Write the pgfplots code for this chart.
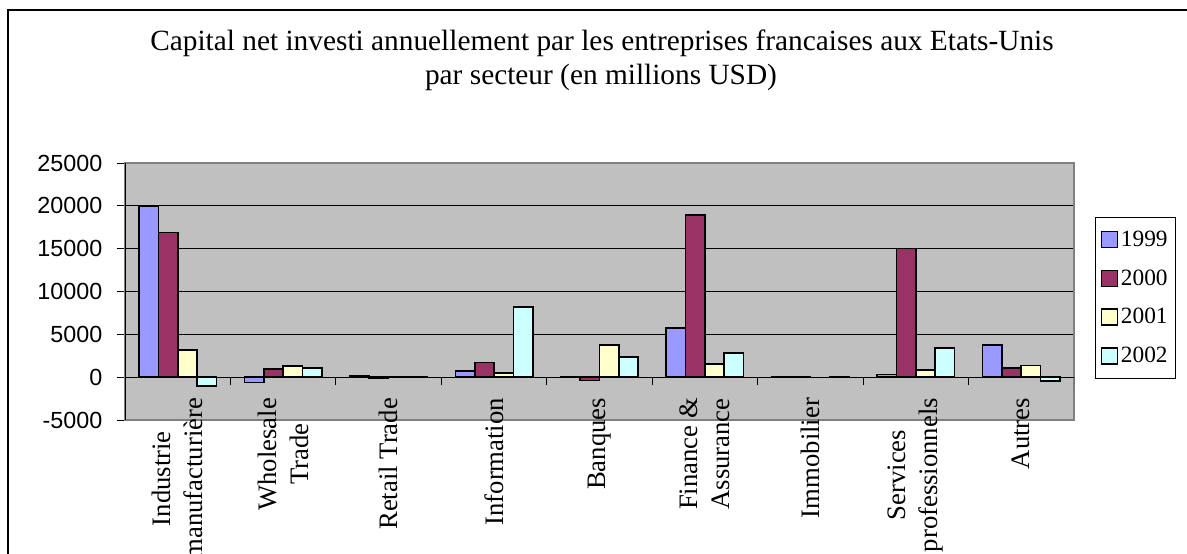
\documentclass[border=0pt]{standalone}
\usepackage{fontspec}
\setmainfont{Liberation Serif}
\newfontfamily\ticksans{Liberation Sans}
\usepackage{pgfplots}
\pgfplotsset{compat=1.18}
\definecolor{c99}{HTML}{9999FF}
\definecolor{c00}{HTML}{993366}
\definecolor{c01}{HTML}{FFFFCC}
\definecolor{c02}{HTML}{CCFFFF}
\definecolor{plotgray}{HTML}{C0C0C0}
\definecolor{bordergray}{HTML}{808080}
\begin{document}
\begin{tikzpicture}
\path[use as bounding box] (0,0) rectangle (890.25pt,414.75pt);
\clip (0,0) rectangle (890.25pt,414.75pt);
\draw[line width=0.9pt] (6pt,-20pt) -- (6pt,407.25pt) -- (920pt,407.25pt);
\node[anchor=base, inner sep=0pt, font=\fontsize{22}{26}\selectfont] at (451.5pt,376.5pt) {Capital net investi annuellement par les entreprises francaises aux Etats-Unis};
\node[anchor=base, inner sep=0pt, font=\fontsize{22}{26}\selectfont] at (450.75pt,351pt) {par secteur (en millions USD)};
\begin{axis}[
  at={(93.75pt,99.75pt)}, anchor=south west,
  width=711.75pt, height=192.75pt, scale only axis,
  xmin=-0.5, xmax=8.5, ymin=-5000, ymax=25000,
  scaled y ticks=false,
  ybar, bar width=14.5pt,
  axis background/.style={fill=plotgray},
  axis line style={bordergray, line width=1.2pt},
  ymajorgrids, major grid style={black, line width=0.6pt},
  ytick={-5000,0,5000,10000,15000,20000,25000},
  yticklabels={-5000,0,5000,10000,15000,20000,25000},
  ytick pos=left, tick align=outside,
  major tick length=6pt,
  ytick style={black, line width=0.75pt},
  yticklabel style={font=\ticksans\fontsize{17.5}{20}\selectfont, xshift=-7.5pt},
  xtick={0,1,2,3,4,5,6,7,8},
  xtick style={draw=none},
  xticklabels={{Industrie\\manufacturière},{Wholesale\\Trade},{Retail Trade},{Information},{Banques},{Finance \&\\Assurance},{Immobilier},{Services\\professionnels},{Autres}},
  xticklabel style={rotate=90, anchor=east, align=center, font=\fontsize{20}{24}\selectfont},
  xticklabel shift=-26pt,
  legend image code/.code={\draw[#1, draw=black, line width=1.2pt] (0pt,-6pt) rectangle (12pt,6pt);},
  legend style={at={(1.022,0.79)}, anchor=north west, draw=black, line width=0.75pt, fill=white,
    font=\fontsize{17.5}{20}\selectfont, row sep=12pt, inner xsep=4pt, inner ysep=8pt},
  legend cell align=left,
]
\addplot[fill=c99, draw=black, line width=1.2pt, bar shift=-21.75pt] coordinates {(0,20000) (1,-630) (2,150) (3,700) (4,-60) (5,5750) (6,50) (7,300) (8,3770)};
\addlegendentry{1999\hspace{20pt}}
\addplot[fill=c00, draw=black, line width=1.2pt, bar shift=-7.25pt] coordinates {(0,16900) (1,930) (2,-120) (3,1700) (4,-400) (5,18900) (6,-50) (7,15000) (8,1050)};
\addlegendentry{2000\hspace{20pt}}
\addplot[fill=c01, draw=black, line width=1.2pt, bar shift=7.25pt] coordinates {(0,3150) (1,1320) (2,-60) (3,470) (4,3740) (5,1520) (7,820) (8,1350)};
\addlegendentry{2001\hspace{20pt}}
\addplot[fill=c02, draw=black, line width=1.2pt, bar shift=21.75pt] coordinates {(0,-1020) (1,1090) (2,-60) (3,8170) (4,2340) (5,2840) (6,-60) (7,3390) (8,-430)};
\addlegendentry{2002\hspace{20pt}}
\draw[black, line width=0.75pt] (axis cs:-0.5,0) -- (axis cs:8.5,0);
\draw[black, line width=0.75pt] (rel axis cs:0,0) -- (rel axis cs:0,1);
\pgfplotsinvokeforeach{0.5,1.5,2.5,3.5,4.5,5.5,6.5,7.5,8.5}{\draw[black, line width=0.75pt] (axis cs:#1,0) -- ++(0pt,-6pt);}
\end{axis}
\end{tikzpicture}
\end{document}
